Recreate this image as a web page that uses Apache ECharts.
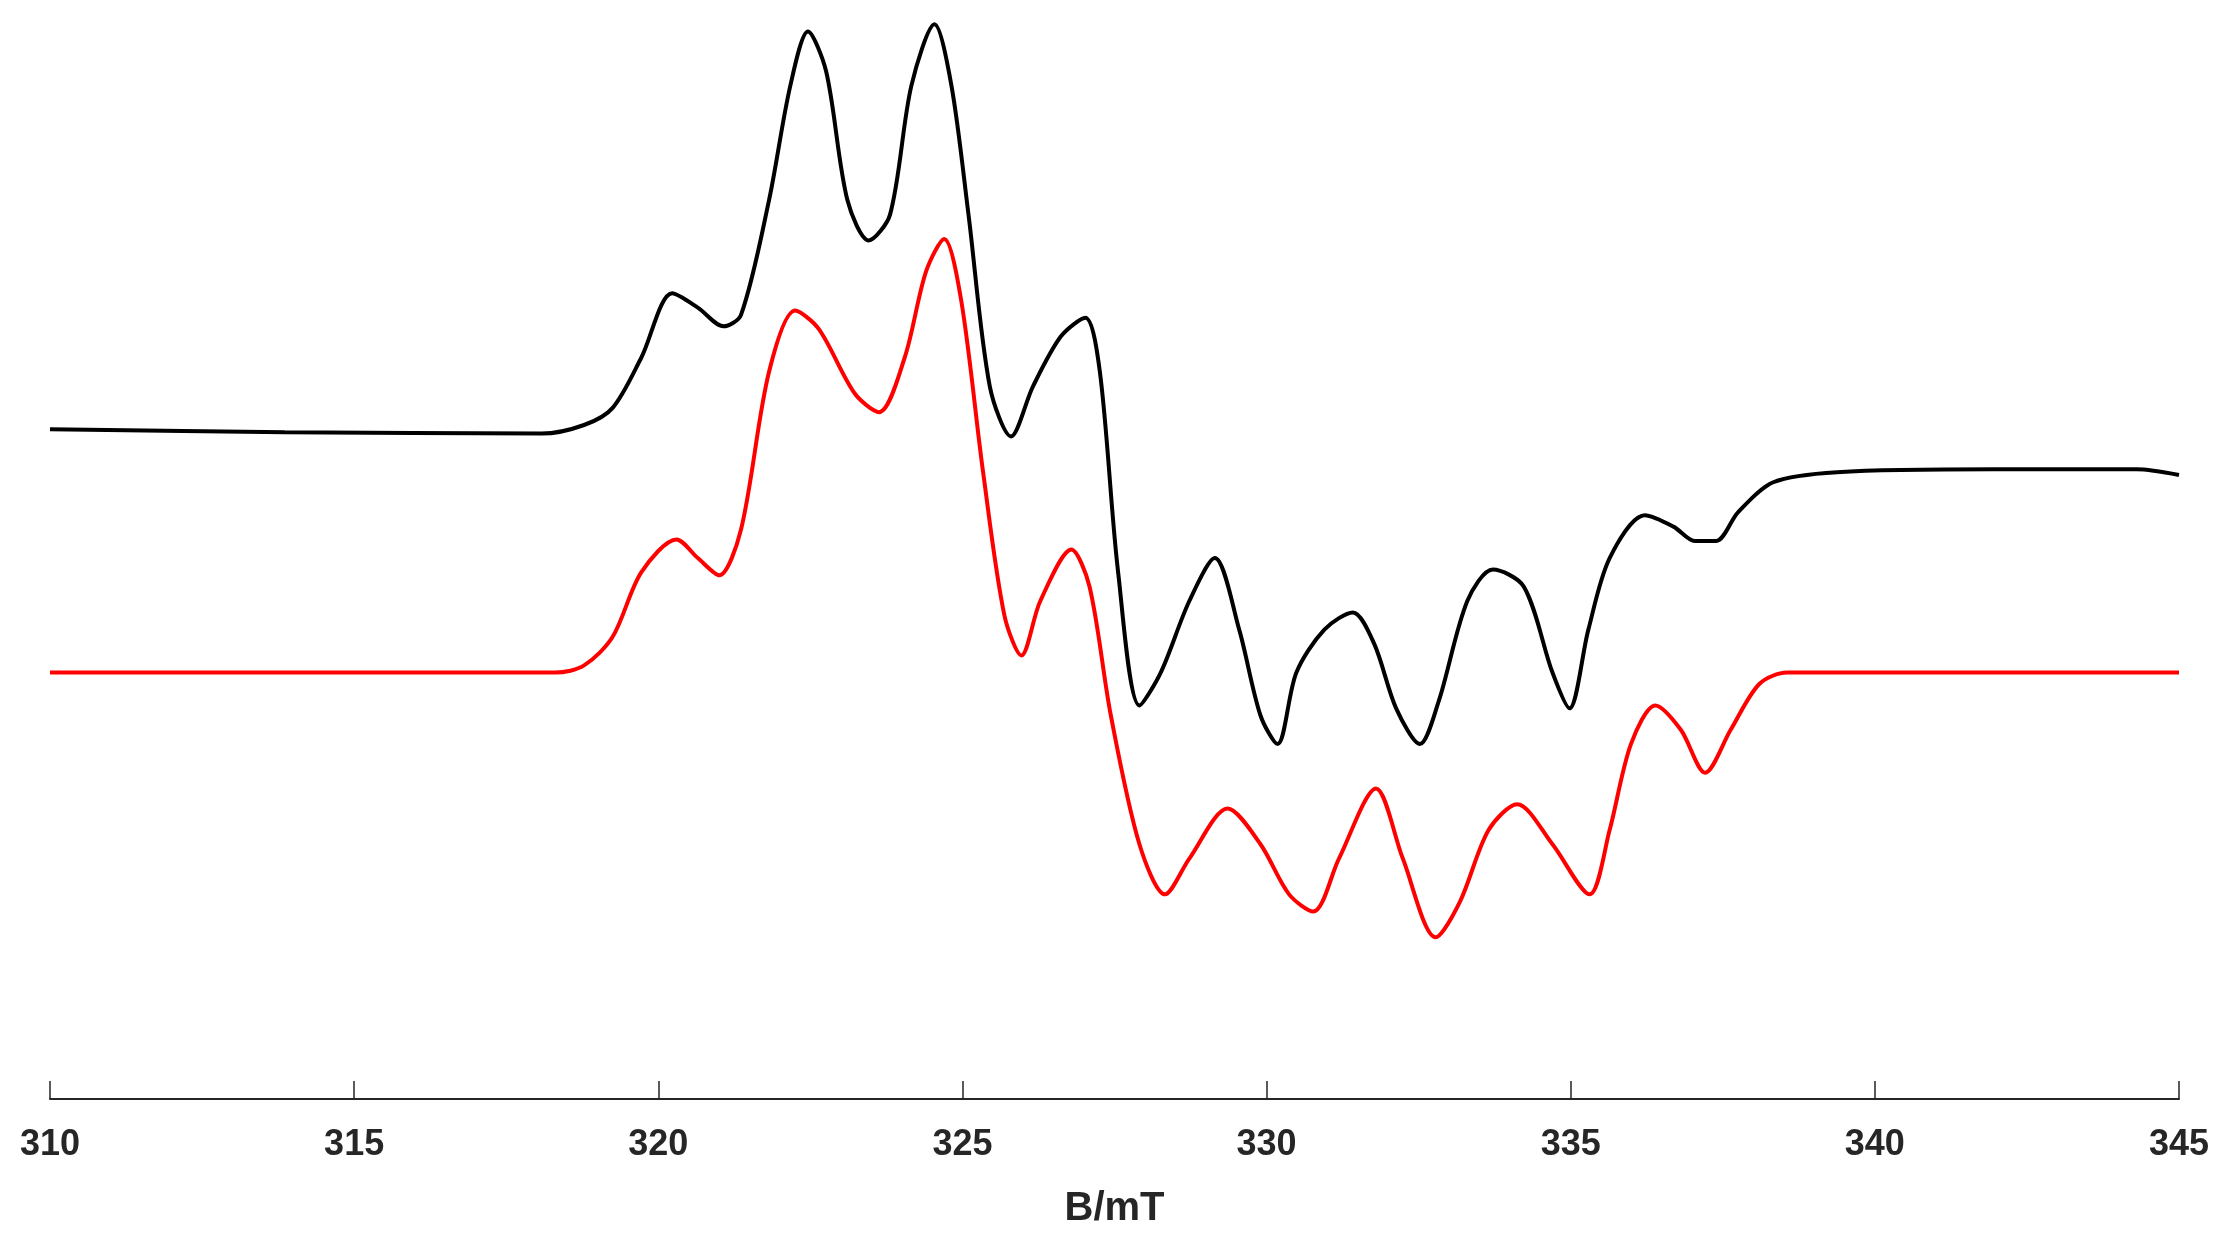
<!DOCTYPE html><html><head><meta charset="utf-8"><script src="https://cdn.jsdelivr.net/npm/echarts@6/dist/echarts.min.js"></script>
<style>html,body{margin:0;background:#fff}#c{width:2232px;height:1242px}</style></head><body><div id="c"></div><script>
const expX=[310,313.86,318.08,318.78,319.25,319.72,320.23,320.65,321.07,321.36,321.82,322.17,322.46,322.76,323.11,323.46,323.81,324.16,324.54,324.82,325.10,325.45,325.80,326.16,326.62,327.02,327.26,327.56,327.91,328.26,328.73,329.15,329.55,329.90,330.18,330.49,330.95,331.42,331.77,332.13,332.52,332.83,333.30,333.72,334.23,334.70,334.98,335.29,335.64,336.22,336.69,337.04,337.39,337.75,338.33,339.38,341.96,344.30,345];
const expY=[300,302,303,297,285,250,205,215,228,220,140,60,22,50,140,168,150,60,17,60,150,270,305,270,235,222,260,400,493,470,420,390,440,500,520,470,440,428,450,495,520,490,420,398,410,470,495,440,390,360,368,378,378,358,337,330,328,328,332];
const simX=[310,318.31,318.78,319.25,319.72,320.30,320.65,321.00,321.36,321.82,322.25,322.64,323.23,323.63,324.05,324.40,324.70,324.98,325.34,325.69,325.97,326.28,326.79,327.09,327.44,327.91,328.33,328.73,329.36,329.90,330.37,330.77,331.19,331.80,332.24,332.78,333.18,333.65,334.12,334.70,335.31,335.64,335.99,336.39,336.81,337.21,337.63,338.10,338.56,345];
const simY=[470,470,465,445,400,377,390,402,370,260,217,230,275,288,250,190,167,210,330,430,458,420,384,410,500,590,625,600,565,590,625,637,600,551,600,655,630,580,562,590,625,580,520,493,510,540,510,478,470,470];
const xTicks=[310,315,320,325,330,335,340,345];
const zip=(a,b)=>a.map((v,i)=>[v,b[i]]);
const ch=echarts.init(document.getElementById('c'));
ch.setOption({animation:false,
grid:{left:50,right:53,top:0,bottom:143},
xAxis:{type:'value',position:'bottom',min:310,max:345,interval:5,name:'B/mT',nameLocation:'middle',nameGap:90,
 nameTextStyle:{fontFamily:'Liberation Sans',fontWeight:'bold',fontSize:40,color:'#262626'},
 axisLine:{onZero:false,lineStyle:{color:'#262626',width:2}},axisTick:{show:true,inside:true,length:18,lineStyle:{color:'#262626',width:1.5}},
 axisLabel:{margin:28,fontFamily:'Liberation Sans',fontWeight:'bold',fontSize:36,color:'#262626'},splitLine:{show:false}},
yAxis:{type:'value',inverse:true,min:0,max:768,show:false},
series:[
 {type:'line',data:zip(expX,expY),smooth:0.3,showSymbol:false,lineStyle:{color:'#000',width:4}},
 {type:'line',data:zip(simX,simY),smooth:0.3,showSymbol:false,lineStyle:{color:'#ff0000',width:4}}
]});
</script></body></html>
